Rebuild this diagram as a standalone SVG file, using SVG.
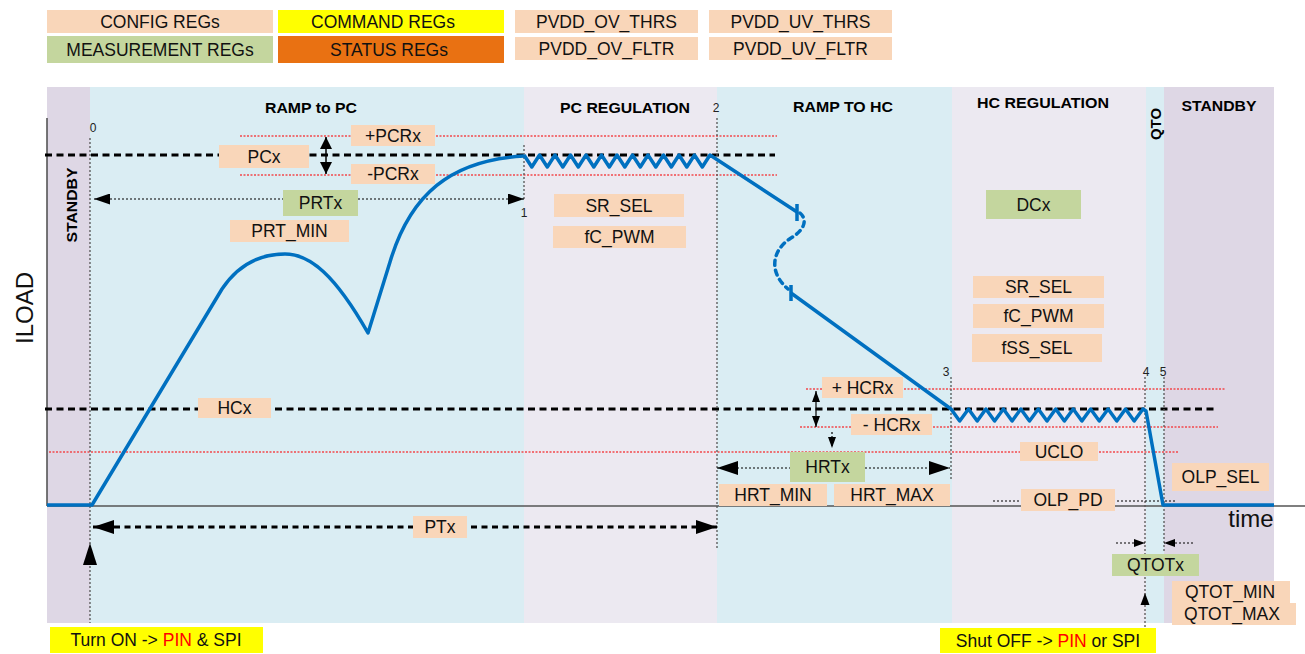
<svg xmlns="http://www.w3.org/2000/svg" width="1305" height="654" viewBox="0 0 1305 654">
<style>
.peach{fill:#F9D6B9}
.green{fill:#C4D69E}
.yel{fill:#FFFF00}
.org{fill:#E97112}
.t{font-family:"Liberation Sans",Arial,sans-serif;font-size:17.5px;fill:#111;text-anchor:middle}
.h{font-family:"Liberation Sans",Arial,sans-serif;font-size:14px;font-weight:bold;fill:#000;text-anchor:middle}
.n{font-family:"Liberation Sans",Arial,sans-serif;font-size:12px;fill:#222;text-anchor:middle}
.red{stroke:#F2484C;stroke-width:1.4;stroke-dasharray:2 1.5;fill:none}
.vd{stroke:#555;stroke-width:1.3;stroke-dasharray:2 2;fill:none}
.bd{stroke:#000;stroke-width:3.2;stroke-dasharray:7 4.5;fill:none}
.thin{stroke:#000;stroke-width:1.2;stroke-dasharray:2 2;fill:none}
.blue{stroke:#0070C0;stroke-width:3.5;fill:none;stroke-linejoin:round}
</style>
<defs>
<marker id="ahL" markerUnits="userSpaceOnUse" viewBox="0 0 21 14" refX="21" refY="7" markerWidth="21" markerHeight="14" orient="auto-start-reverse"><path d="M0,0 L21,7 L0,14 z" fill="#000"/></marker>
<marker id="ahM" markerUnits="userSpaceOnUse" viewBox="0 0 16 11" refX="16" refY="5.5" markerWidth="16" markerHeight="11" orient="auto-start-reverse"><path d="M0,0 L16,5.5 L0,11 z" fill="#000"/></marker>
<marker id="ahS" markerUnits="userSpaceOnUse" viewBox="0 0 12 12" refX="12" refY="6" markerWidth="12" markerHeight="12" orient="auto-start-reverse"><path d="M0,0 L12,6 L0,12 z" fill="#000"/></marker>
<marker id="ahXS" markerUnits="userSpaceOnUse" viewBox="0 0 11 8" refX="11" refY="4" markerWidth="11" markerHeight="8" orient="auto-start-reverse"><path d="M0,0 L11,4 L0,8 z" fill="#000"/></marker>
</defs>

<g id="legend">
<rect class="peach" x="47" y="10" width="226" height="23"/><text class="t" x="160" y="27.5">CONFIG REGs</text>
<rect class="yel" x="278" y="10" width="226" height="23"/><text class="t" x="383" y="27.5">COMMAND REGs</text>
<rect class="green" x="47" y="36" width="226" height="27"/><text class="t" x="160" y="55.5">MEASUREMENT REGs</text>
<rect class="org" x="278" y="36" width="226" height="27"/><text class="t" x="389" y="55.5">STATUS REGs</text>
<rect class="peach" x="515" y="10" width="183" height="23"/><text class="t" x="606.5" y="27.5">PVDD_OV_THRS</text>
<rect class="peach" x="709" y="10" width="183" height="23"/><text class="t" x="800.5" y="27.5">PVDD_UV_THRS</text>
<rect class="peach" x="515" y="37" width="183" height="23"/><text class="t" x="606.5" y="54.5">PVDD_OV_FLTR</text>
<rect class="peach" x="709" y="37" width="183" height="23"/><text class="t" x="800.5" y="54.5">PVDD_UV_FLTR</text>
</g>

<g id="phases">
<rect x="47" y="87" width="43" height="536" fill="#DED7E5"/>
<rect x="90" y="87" width="434" height="536" fill="#DAEDF3"/>
<rect x="524" y="87" width="193" height="536" fill="#ECE9F1"/>
<rect x="717" y="87" width="235" height="536" fill="#DAEDF3"/>
<rect x="952" y="87" width="194" height="536" fill="#ECE9F1"/>
<rect x="1146" y="87" width="18" height="536" fill="#DAEDF3"/>
<rect x="1164" y="87" width="110" height="536" fill="#DED7E5"/>
<text class="h" x="311" y="113" textLength="92" lengthAdjust="spacingAndGlyphs">RAMP to PC</text>
<text class="h" x="625" y="113" textLength="130" lengthAdjust="spacingAndGlyphs">PC REGULATION</text>
<text class="h" x="843" y="112" textLength="100" lengthAdjust="spacingAndGlyphs">RAMP TO HC</text>
<text class="h" x="1043" y="108" textLength="132" lengthAdjust="spacingAndGlyphs">HC REGULATION</text>
<text class="h" x="1219" y="111" textLength="75" lengthAdjust="spacingAndGlyphs">STANDBY</text>
<text class="h" transform="translate(77,205) rotate(-90)" x="0" y="0" textLength="75" lengthAdjust="spacingAndGlyphs">STANDBY</text>
<text class="h" transform="translate(1161,124) rotate(-90)" x="0" y="0" textLength="32" lengthAdjust="spacingAndGlyphs">QTO</text>
</g>

<g id="axes">
<line x1="47" y1="118" x2="47" y2="506" stroke="#555" stroke-width="1.6"/>
<line x1="47" y1="506" x2="1305" y2="506" stroke="#555" stroke-width="1.6"/>
<text x="33" y="308" transform="rotate(-90 33 308)" font-family="Liberation Sans, Arial, sans-serif" font-size="24" fill="#111" text-anchor="middle">ILOAD</text>
<text x="1251" y="527" font-family="Liberation Sans, Arial, sans-serif" font-size="24" fill="#111" text-anchor="middle">time</text>
</g>

<g id="connectors">
<line class="red" x1="240" y1="136" x2="777" y2="136"/>
<line class="red" x1="240" y1="175" x2="777" y2="175"/>
<line class="red" x1="806" y1="389" x2="1225" y2="389"/>
<line class="red" x1="800" y1="427" x2="1218" y2="427"/>
<line class="red" x1="49" y1="452" x2="1178" y2="452"/>
<line class="bd" x1="45" y1="155" x2="775" y2="155"/>
<line class="bd" x1="45" y1="409" x2="1215" y2="409"/>
<line class="vd" x1="90" y1="138" x2="90" y2="623"/>
<line class="vd" x1="524" y1="145" x2="524" y2="200"/>
<line class="vd" x1="717" y1="118" x2="717" y2="548"/>
<line class="vd" x1="951" y1="377" x2="951" y2="480"/>
<line class="vd" x1="1145" y1="377" x2="1145" y2="628"/>
<line class="vd" x1="1164" y1="377" x2="1164" y2="553"/>
<line class="thin" x1="993" y1="501" x2="1175" y2="501"/>
<line class="thin" x1="94" y1="199" x2="524" y2="199" marker-start="url(#ahM)" marker-end="url(#ahM)"/>
<line class="thin" x1="717" y1="468" x2="950" y2="468" marker-start="url(#ahL)" marker-end="url(#ahL)"/>
<line x1="93" y1="527" x2="717" y2="527" stroke="#000" stroke-width="3.2" stroke-dasharray="6 4.5" marker-start="url(#ahL)" marker-end="url(#ahL)"/>
<line stroke="#000" stroke-width="1.5" x1="326" y1="137" x2="326" y2="174" marker-start="url(#ahS)" marker-end="url(#ahS)"/>
<line stroke="#000" stroke-width="1.2" x1="816" y1="391" x2="816" y2="427" marker-start="url(#ahXS)" marker-end="url(#ahXS)"/>
<line class="thin" x1="832" y1="432" x2="832" y2="448" marker-end="url(#ahXS)"/>
<line class="thin" x1="1116" y1="543" x2="1145" y2="543" marker-end="url(#ahXS)"/>
<line class="thin" x1="1193" y1="543" x2="1164" y2="543" marker-end="url(#ahXS)"/>
<polygon points="90,543 83,565 97,565" fill="#000"/>
<polygon points="1145,593 1140.5,605 1149.5,605" fill="#000"/>
<path class="blue" d="M47 505 L92 505 L222 289 C240 262 262 254 285 254 C310 254 335 275 368 333 L390 262 C410 195 450 160 524 156"/>
<polyline class="blue" points="524,155 531.8,167 539.5,155 547.3,167 555,155 562.8,167 570.5,155 578.3,167 586,155 593.8,167 601.5,155 609.3,167 617,155 624.8,167 632.5,155 640.3,167 648,155 655.8,167 663.5,155 671.3,167 679,155 686.8,167 694.5,155 702.3,167 710,155 797,212"/>
<path class="blue" d="M797 204 V221 M791 285 V301"/>
<path class="blue" d="M800 213 C807 219 806 229 791 238 C772 250 768 272 788 289" stroke-dasharray="5 5" stroke-linecap="round"/>
<polyline class="blue" points="791,293 951,409 959.7,421 968.5,409 977.2,421 985.9,409 994.6,421 1003.4,409 1012.1,421 1020.8,409 1029.5,421 1038.3,409 1047,421 1055.7,409 1064.4,421 1073.2,409 1081.9,421 1090.6,409 1099.3,421 1108.1,409 1116.8,421 1125.5,409 1134.2,421 1143,409 1146,411 1163,505 1274,505"/>
<text class="n" x="93" y="132">0</text>
<text class="n" x="524" y="217">1</text>
<text class="n" x="716" y="112">2</text>
<text class="n" x="946" y="376">3</text>
<text class="n" x="1146" y="376">4</text>
<text class="n" x="1163" y="376">5</text>
</g>

<g id="n-pcx"><rect class="peach" x="219" y="145" width="90" height="23"/><text class="t" x="264" y="162.5">PCx</text></g>
<g id="n-pcrp"><rect class="peach" x="351" y="125" width="84" height="21"/><text class="t" x="393" y="141.5">+PCRx</text></g>
<g id="n-pcrm"><rect class="peach" x="351" y="164" width="84" height="20"/><text class="t" x="393" y="180">-PCRx</text></g>
<g id="n-prtx"><rect class="green" x="283" y="190" width="75" height="26"/><text class="t" x="320.5" y="209">PRTx</text></g>
<g id="n-prtmin"><rect class="peach" x="230" y="220" width="119" height="22"/><text class="t" x="289.5" y="237">PRT_MIN</text></g>
<g id="n-hcx"><rect class="peach" x="198" y="398" width="73" height="20"/><text class="t" x="234.5" y="414">HCx</text></g>
<g id="n-ptx"><rect class="peach" x="413" y="516" width="54" height="22"/><text class="t" x="440" y="533">PTx</text></g>
<g id="n-srsel1"><rect class="peach" x="554" y="194" width="130" height="23"/><text class="t" x="619" y="211.5">SR_SEL</text></g>
<g id="n-fcpwm1"><rect class="peach" x="553" y="226" width="133" height="22"/><text class="t" x="619.5" y="243">fC_PWM</text></g>
<g id="n-dcx"><rect class="green" x="986" y="190" width="95" height="29"/><text class="t" x="1033.5" y="210.5">DCx</text></g>
<g id="n-srsel2"><rect class="peach" x="973" y="276" width="131" height="22"/><text class="t" x="1038.5" y="293">SR_SEL</text></g>
<g id="n-fcpwm2"><rect class="peach" x="973" y="304" width="131" height="24"/><text class="t" x="1038.5" y="322">fC_PWM</text></g>
<g id="n-fsssel"><rect class="peach" x="972" y="334" width="130" height="28"/><text class="t" x="1037" y="354">fSS_SEL</text></g>
<g id="n-hcrp"><rect class="peach" x="822" y="377" width="81" height="21"/><text class="t" x="862.5" y="393.5">+ HCRx</text></g>
<g id="n-hcrm"><rect class="peach" x="851" y="414" width="81" height="21"/><text class="t" x="891.5" y="430.5">- HCRx</text></g>
<g id="n-uclo"><rect class="peach" x="1020" y="442" width="78" height="19"/><text class="t" x="1059" y="457.5">UCLO</text></g>
<g id="n-hrtx"><rect class="green" x="790" y="452" width="75" height="30"/><text class="t" x="827.5" y="473">HRTx</text></g>
<g id="n-hrtmin"><rect class="peach" x="719" y="484" width="108" height="22"/><text class="t" x="773" y="501">HRT_MIN</text></g>
<g id="n-hrtmax"><rect class="peach" x="834" y="484" width="116" height="22"/><text class="t" x="892" y="501">HRT_MAX</text></g>
<g id="n-olppd"><rect class="peach" x="1021" y="489" width="94" height="22"/><text class="t" x="1068" y="506">OLP_PD</text></g>
<g id="n-olpsel"><rect class="peach" x="1172" y="463" width="97" height="28"/><text class="t" x="1220.5" y="483">OLP_SEL</text></g>
<g id="n-qtotx"><rect class="green" x="1112" y="554" width="87" height="22"/><text class="t" x="1155.5" y="571">QTOTx</text></g>
<g id="n-qtotmin"><rect class="peach" x="1172" y="581" width="118" height="22"/><text class="t" x="1230" y="598">QTOT_MIN</text></g>
<g id="n-qtotmax"><rect class="peach" x="1172" y="603" width="124" height="22"/><text class="t" x="1232" y="620">QTOT_MAX</text></g>
<g id="n-turnon"><rect class="yel" x="50" y="627" width="213" height="26"/><text class="t" x="156" y="646">Turn ON -&gt; <tspan fill="#FF0000">PIN</tspan> &amp; SPI</text></g>
<g id="n-shutoff"><rect class="yel" x="940" y="628" width="216" height="25"/><text class="t" x="1048" y="646.5">Shut OFF -&gt; <tspan fill="#FF0000">PIN</tspan> or SPI</text></g>
</svg>
